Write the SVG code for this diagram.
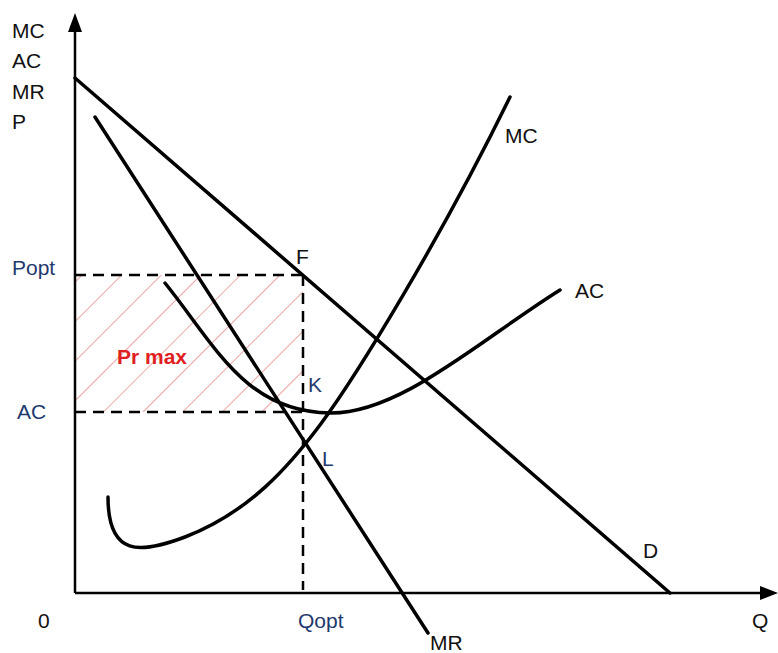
<svg xmlns="http://www.w3.org/2000/svg" width="778" height="653" viewBox="0 0 778 653">
<style>
.ax{stroke:#000;stroke-width:2.5;fill:none}
.cv{stroke:#000;stroke-width:3.5;fill:none;stroke-linecap:round}
.ds{stroke:#000;stroke-width:2.5;fill:none;stroke-dasharray:11 7}
.t{font-family:"Liberation Sans",Arial,sans-serif;font-size:21px;fill:#111}
.b{fill:#1F3A6E}
.r{font-family:"Liberation Sans",Arial,sans-serif;font-size:21px;font-weight:bold;fill:#E02020}
</style>
<defs>
<pattern id="hatch" patternUnits="userSpaceOnUse" width="28" height="28" patternTransform="rotate(45)">
<line x1="0" y1="0" x2="0" y2="28" stroke="#E06868" stroke-width="1.2"/>
</pattern>
</defs>
<rect id="profit" x="75" y="275" width="228" height="137" fill="url(#hatch)"/>
<g id="axes">
<line class="ax" x1="75" y1="593" x2="75" y2="30"/>
<path d="M75,13 L68,32 L82,32 z" fill="#000"/>
<line class="ax" x1="75" y1="593" x2="762" y2="593"/>
<path d="M778,593 L760,586 L760,600 z" fill="#000"/>
</g>
<g id="connectors">
<line class="ds" x1="75" y1="275" x2="303" y2="275"/>
<line class="ds" x1="75" y1="412" x2="303" y2="412"/>
<line class="ds" x1="303" y1="275" x2="303" y2="590"/>
</g>
<g id="demand"><line class="cv" x1="75" y1="78" x2="670" y2="593"/></g>
<g id="mr"><line class="cv" x1="95" y1="117" x2="428" y2="633"/></g>
<g id="mc"><path class="cv" d="M108,497 C108,557 140,554 185,537 C250,512 290,465 320,425 C357,375 440,240 510,97"/></g>
<g id="ac"><path class="cv" d="M165,283 C215,345 245,412 330,413 C400,414 480,340 560,290"/></g>
<g id="labels">
<text class="t" x="12" y="38">MC</text>
<text class="t" x="12" y="68">AC</text>
<text class="t" x="12" y="99">MR</text>
<text class="t" x="12" y="129">P</text>
<text class="t b" x="12" y="275">Popt</text>
<text class="t b" x="17" y="419">AC</text>
<text class="t" x="38" y="628">0</text>
<text class="t b" x="298" y="628">Qopt</text>
<text class="t" x="752" y="628">Q</text>
<text class="t" x="430" y="650">MR</text>
<text class="t" x="296" y="264">F</text>
<text class="t b" x="308" y="392">K</text>
<text class="t b" x="322" y="466">L</text>
<text class="t" x="643" y="558">D</text>
<text class="t" x="505" y="143">MC</text>
<text class="t" x="575" y="298">AC</text>
<text class="r" x="117" y="364">Pr max</text>
</g>
</svg>
